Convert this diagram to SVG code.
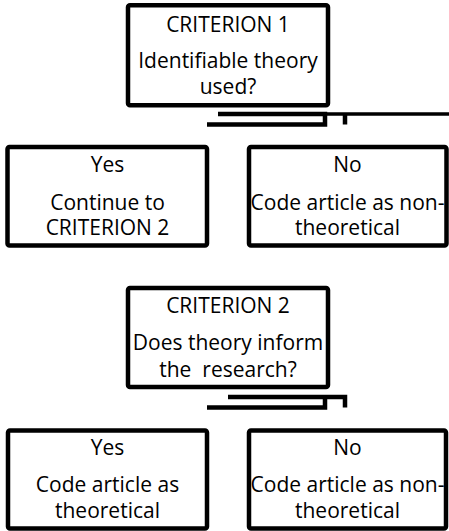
<svg xmlns="http://www.w3.org/2000/svg" width="449" height="531" viewBox="0 0 449 531">
<style>
.box{fill:#fff;stroke:#000;stroke-width:4.5}
.t{font-family:"Open Sans","Liberation Sans",sans-serif;font-size:21px;fill:#000;text-anchor:middle}
.c{fill:none;stroke:#000;stroke-width:4.5}
.c2{fill:none;stroke:#000;stroke-width:3.5}
</style>
<rect width="449" height="531" fill="#fff"/>
<g id="connectors">
<path class="c" d="M218,114 H325 V124.5 H207"/>
<path class="c2" d="M325,114 H449"/>
<path class="c" d="M345,114 V124.5"/>
<path class="c" d="M228,397 H345 V407.5"/>
<path class="c" d="M207,407.5 H325 V397"/>
</g>
<g id="criterion1">
<rect class="box" x="128" y="5.3" width="200" height="100" rx="2"/>
<text class="t" x="228" y="31.7">CRITERION 1</text>
<text class="t" x="228" y="68">Identifiable theory</text>
<text class="t" x="228" y="93.5">used?</text>
</g>
<g id="yes1">
<rect class="box" x="7.5" y="147" width="199.5" height="98.5" rx="2"/>
<text class="t" x="107.5" y="171.7">Yes</text>
<text class="t" x="107.5" y="209.5">Continue to</text>
<text class="t" x="107.5" y="235">CRITERION 2</text>
</g>
<g id="no1">
<rect class="box" x="249" y="147" width="197.5" height="98.5" rx="2"/>
<text class="t" x="347.5" y="171.7">No</text>
<text class="t" x="347.5" y="209.5">Code article as non-</text>
<text class="t" x="347.5" y="235">theoretical</text>
</g>
<g id="criterion2">
<rect class="box" x="128" y="288" width="200" height="99" rx="2"/>
<text class="t" x="228" y="313.3">CRITERION 2</text>
<text class="t" x="228" y="350">Does theory inform</text>
<text class="t" x="228" y="376.7" xml:space="preserve">the  research?</text>
</g>
<g id="yes2">
<rect class="box" x="8" y="430.5" width="199" height="98" rx="2"/>
<text class="t" x="107.5" y="455">Yes</text>
<text class="t" x="107.5" y="491.7">Code article as</text>
<text class="t" x="107.5" y="518">theoretical</text>
</g>
<g id="no2">
<rect class="box" x="249" y="430.5" width="197" height="98" rx="2"/>
<text class="t" x="347.5" y="455">No</text>
<text class="t" x="347.5" y="491.7">Code article as non-</text>
<text class="t" x="347.5" y="518">theoretical</text>
</g>
</svg>
